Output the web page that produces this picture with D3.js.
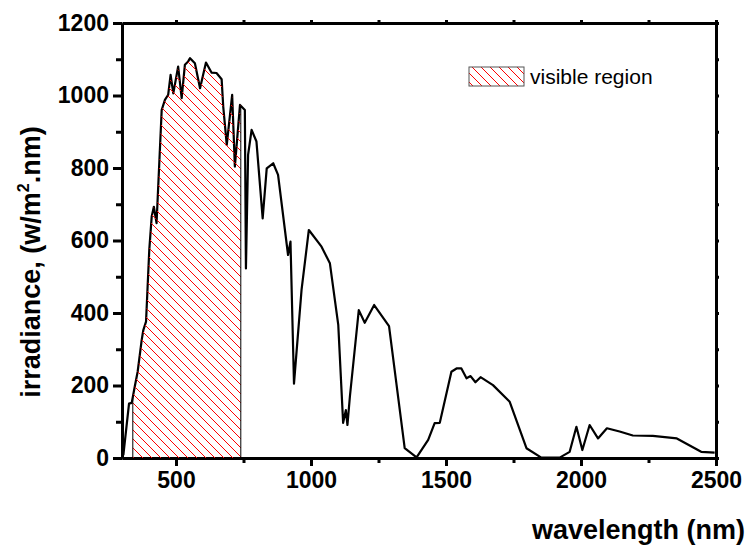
<!DOCTYPE html>
<meta charset="utf-8">
<style>
body { margin: 0; background: #fff; }
.axis path, .axis line {
  fill: none;
  stroke: #000;
  stroke-width: 3px;
}
.axis text {
  font: bold 23px "Liberation Sans", Arial, sans-serif;
  fill: #000;
}
.line {
  fill: none;
  stroke: #000;
  stroke-width: 2.2px;
  stroke-linejoin: round;
}
.title {
  font: bold 27px "Liberation Sans", Arial, sans-serif;
  fill: #000;
}
.legend text {
  font: 21px "Liberation Sans", Arial, sans-serif;
  fill: #000;
}
</style>
<body>
<svg width="749" height="548"></svg>
<script src="https://d3js.org/d3.v7.min.js"></script>
<script>
var wavelength = [305, 326, 336, 348, 358, 373, 379, 389, 401, 410, 418, 428, 447, 459, 471, 480, 490,
  508, 521, 533, 545, 552, 570, 589, 611, 632, 650, 669, 675, 688, 708, 718, 737, 755, 759, 767,
  780, 798, 821, 836, 860, 878, 915, 924, 937, 944, 965, 992, 1039, 1070, 1101, 1119, 1129, 1135,
  1144, 1177, 1199, 1234, 1289, 1347, 1391, 1434, 1458, 1477, 1520, 1539, 1557, 1576, 1591, 1609,
  1628, 1674, 1736, 1798, 1853, 1921, 1958, 1983, 2005, 2032, 2063, 2096, 2143, 2192, 2266, 2355,
  2445, 2495];
var irradiance = [8, 150, 152, 200, 238, 326, 353, 376, 574, 666, 693, 648, 960, 988, 1002, 1057, 1006,
  1080, 993, 1085, 1094, 1103, 1089, 1020, 1091, 1063, 1062, 1045, 969, 864, 1002, 804, 974, 960, 523, 836,
  905, 873, 661, 799, 813, 781, 560, 597, 205, 270, 464, 629, 583, 537, 367, 97, 132, 91,
  169, 408, 373, 422, 364, 27, 2, 50, 96, 97, 238, 247, 247, 220, 226, 209,
  223, 201, 155, 27, 1, 1, 17, 86, 22, 91, 54, 82, 73, 62, 61, 54,
  17, 15];
var xTicks = [500, 1000, 1500, 2000, 2500];
var xMinorTicks = [750, 1250, 1750, 2250];
var yTicks = [0, 200, 400, 600, 800, 1000, 1200];
var yMinorTicks = [100, 300, 500, 700, 900, 1100];
var visibleRange = [340, 740];
var legendLabel = "visible region";

var svg = d3.select("svg"),
    margin = {top: 23, right: 33, bottom: 90, left: 122},
    width = +svg.attr("width") - margin.left - margin.right,
    height = +svg.attr("height") - margin.top - margin.bottom;

var data = wavelength.map(function(w, i) { return {w: w, v: irradiance[i]}; });

var x = d3.scaleLinear().domain([300, 2500]).range([0, width]);
var y = d3.scaleLinear().domain([0, 1200]).range([height, 0]);
var fmt = d3.format("d");

var defs = svg.append("defs");
defs.append("pattern")
    .attr("id", "hatch")
    .attr("patternUnits", "userSpaceOnUse")
    .attr("width", 9)
    .attr("height", 9)
  .append("path")
    .attr("d", "M0,0L9,9M-2,7L2,11M7,-2L11,2")
    .attr("stroke", "#ff0000")
    .attr("stroke-width", 1);

var area = d3.area()
    .x(function(d) { return x(d.w); })
    .y0(height)
    .y1(function(d) { return y(d.v); });

defs.append("clipPath")
    .attr("id", "under")
  .append("path")
    .datum(data)
    .attr("transform", "translate(" + margin.left + "," + margin.top + ")")
    .attr("d", area);

var g = svg.append("g")
    .attr("transform", "translate(" + margin.left + "," + margin.top + ")");

// hatched visible band, clipped to the area under the curve
var band = svg.append("g")
    .attr("clip-path", "url(#under)")
  .append("g")
    .attr("transform", "translate(" + margin.left + "," + margin.top + ")");

band.append("rect")
    .attr("x", x(visibleRange[0]))
    .attr("y", 0)
    .attr("width", x(visibleRange[1]) - x(visibleRange[0]))
    .attr("height", height)
    .attr("fill", "url(#hatch)");

band.selectAll(".edge")
    .data(visibleRange)
  .enter().append("line")
    .attr("class", "edge")
    .attr("x1", function(d) { return x(d); })
    .attr("x2", function(d) { return x(d); })
    .attr("y1", 0)
    .attr("y2", height)
    .attr("stroke", "#000")
    .attr("stroke-width", 1);

var line = d3.line()
    .x(function(d) { return x(d.w); })
    .y(function(d) { return y(d.v); });

g.append("path")
    .datum(data)
    .attr("class", "line")
    .attr("d", line);

// axes
g.append("g")
    .attr("class", "axis")
    .attr("transform", "translate(0," + height + ")")
    .call(d3.axisBottom(x).tickValues(xMinorTicks).tickSize(5).tickSizeOuter(0).tickFormat(""));

g.append("g")
    .attr("class", "axis")
    .attr("transform", "translate(0," + height + ")")
    .call(d3.axisBottom(x).tickValues(xTicks).tickSize(8).tickSizeOuter(0).tickPadding(6).tickFormat(fmt));

g.append("g")
    .attr("class", "axis")
    .call(d3.axisLeft(y).tickValues(yMinorTicks).tickSize(6).tickSizeOuter(0).tickFormat(""));

g.append("g")
    .attr("class", "axis")
    .call(d3.axisLeft(y).tickValues(yTicks).tickSize(9).tickSizeOuter(0).tickPadding(4).tickFormat(fmt));

g.append("g")
    .attr("class", "axis")
    .call(d3.axisTop(x).tickValues(xTicks.concat(xMinorTicks)).tickSize(3).tickSizeOuter(0).tickFormat(""));

g.append("g")
    .attr("class", "axis")
    .attr("transform", "translate(" + width + ",0)")
    .call(d3.axisRight(y).tickValues(yTicks.concat(yMinorTicks)).tickSize(3).tickSizeOuter(0).tickFormat(""));

// titles
var yTitle = svg.append("text")
    .attr("class", "title")
    .attr("transform", "translate(40,262) rotate(-90)")
    .attr("text-anchor", "middle");
yTitle.append("tspan").text("irradiance, (w/m");
yTitle.append("tspan").attr("dy", -11).style("font-size", "16px").text("2");
yTitle.append("tspan").attr("dy", 11).text(".nm)");

svg.append("text")
    .attr("class", "title")
    .attr("x", 745)
    .attr("y", 539)
    .attr("text-anchor", "end")
    .text("wavelength (nm)");

// legend
var legend = svg.append("g").attr("class", "legend");
legend.append("rect")
    .attr("x", 469)
    .attr("y", 67)
    .attr("width", 55)
    .attr("height", 19)
    .attr("fill", "url(#hatch)")
    .attr("stroke", "#555")
    .attr("stroke-width", 1);
legend.append("text")
    .attr("x", 530)
    .attr("y", 83.5)
    .text(legendLabel);
</script>
</body>
